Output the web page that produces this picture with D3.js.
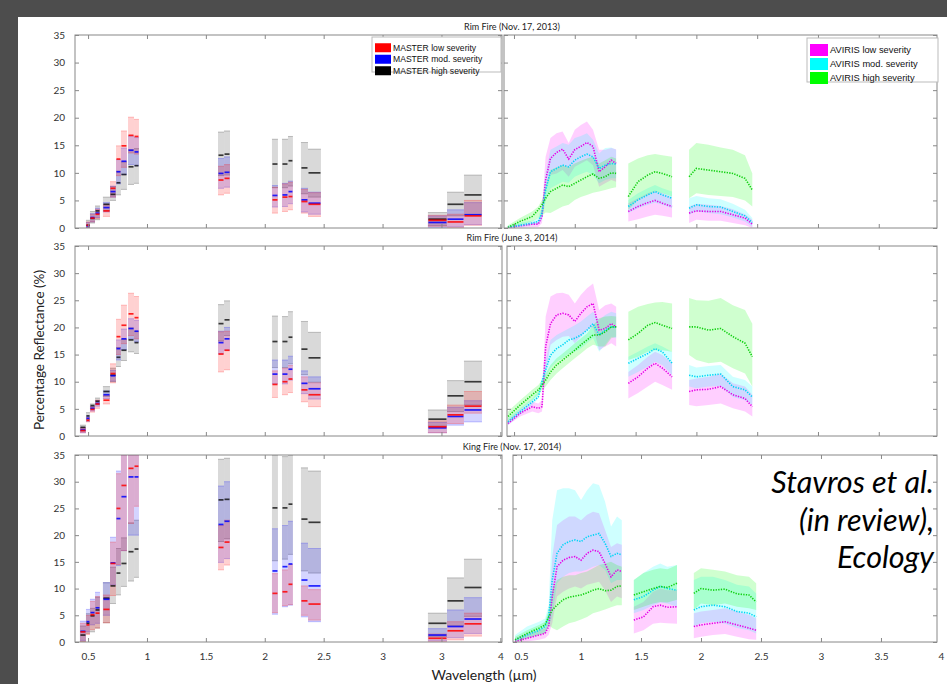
<!DOCTYPE html>
<html>
<head>
<meta charset="utf-8">
<title>Burn severity reflectance spectra</title>
<script src="https://d3js.org/d3.v7.min.js"></script>
<style>
  body { margin: 0; background: #4d4d4d; }
  svg { display: block; }
  .tick text { font-family: Lato, "Open Sans", sans-serif; font-size: 10px; fill: #333; }
  .tick line { stroke: #888; }
</style>
</head>
<body>
<svg width="947" height="684"></svg>
<script>
// ---- data ----
// MASTER band bounds (um)
var masterStart = [0.431,0.482,0.516,0.559,0.626,0.686,0.737,0.779,0.839,0.890,1.603,1.654,2.061,2.146,2.197,2.307,2.367,3.385,3.547,3.691];
var masterEnd   = [0.482,0.516,0.559,0.601,0.686,0.737,0.779,0.830,0.890,0.932,1.654,1.705,2.112,2.197,2.239,2.367,2.477,3.547,3.691,3.844];

// Rim Fire Nov 2013, MASTER
var rim13MasterLowMean  = [null,0.5,1.8,2.5,3.1,7.2,12.5,14.9,16.8,16.6,8.7,9.0,5.1,5.6,5.7,4.8,4.3,1.4,1.1,2.2];
var rim13MasterLowMin   = [null,0,1.1,1.7,2.1,5.6,9.5,11.0,13.6,13.4,6.0,6.3,2.7,3.0,3.3,2.7,2.1,0.3,0,0.5];
var rim13MasterLowMax   = [null,1.1,2.5,3.4,4.2,8.4,14.9,17.6,20.1,19.7,11.2,11.5,7.4,8.0,8.3,7.0,6.4,2.3,2.5,5.0];
var rim13MasterModMean  = [null,0.4,1.9,2.7,3.7,6.6,10.2,12.1,14.1,13.8,9.9,10.1,5.9,6.0,6.6,5.1,4.5,1.0,1.6,2.4];
var rim13MasterModMin   = [null,0,1.1,1.9,2.9,5.6,8.0,9.7,11.5,11.3,7.2,7.4,3.8,3.9,4.4,2.9,2.5,0,0.2,0.6];
var rim13MasterModMax   = [null,1.0,2.6,3.6,4.6,7.6,12.4,14.5,16.7,16.4,12.6,12.9,7.7,8.1,8.5,7.2,6.5,2.2,3.3,4.6];
var rim13MasterHighMean = [null,0.5,1.75,3.1,4.3,6.1,8.2,9.7,11.1,11.3,13.2,13.4,11.6,11.6,12.2,10.9,10.0,1.6,4.3,6.0];
var rim13MasterHighMin  = [null,0,0.9,1.5,3.1,5.0,6.0,7.0,7.9,8.1,9.5,9.6,7.3,7.3,7.6,6.2,5.6,0.4,2.2,2.4];
var rim13MasterHighMax  = [null,1.4,3.0,4.0,5.6,7.5,10.3,12.0,14.2,14.4,17.4,17.6,16.1,16.1,16.6,15.5,14.3,2.8,6.5,9.6];

// Rim Fire June 2014, MASTER
var rim14MasterLowMean  = [1.0,2.9,4.9,5.9,6.6,11.5,18.3,20.4,22.5,21.8,15.1,15.8,9.5,10.0,10.5,8.5,7.6,1.7,3.9,5.5];
var rim14MasterLowMin   = [0.6,2.6,4.4,5.1,5.9,9.8,15.0,17.0,18.5,17.9,11.8,12.2,7.1,7.6,8.0,6.3,5.4,0.6,2.3,4.2];
var rim14MasterLowMax   = [1.5,3.4,5.4,6.6,7.5,13.3,21.5,24.1,26.3,25.7,19.2,19.3,12.0,12.5,13.0,10.9,9.8,2.8,5.7,8.2];
var rim14MasterModMean  = [1.1,3.25,5.1,6.0,7.6,11.1,16.1,17.9,19.8,19.3,17.2,17.9,11.4,11.4,12.3,9.7,8.7,1.5,3.6,4.8];
var rim14MasterModMin   = [0.6,2.7,4.6,5.5,6.9,10.1,14.0,15.9,17.9,17.3,15.1,15.8,9.6,9.6,10.3,7.8,6.8,0.6,2.0,2.6];
var rim14MasterModMax   = [1.5,3.7,5.5,6.5,8.3,12.1,17.7,19.7,21.6,21.3,19.3,20.0,14.0,14.0,14.7,12.0,10.9,2.5,5.3,6.5];
var rim14MasterHighMean = [1.6,3.7,5.6,6.4,8.2,11.2,14.5,15.8,17.7,17.2,20.7,21.4,17.4,17.4,18.2,16.0,14.4,3.1,7.4,10.0];
var rim14MasterHighMin  = [0.9,3.0,5.0,5.8,7.3,10.0,12.8,13.9,15.5,15.2,17.5,18.5,12.6,12.6,13.3,11.3,9.9,1.8,4.5,5.7];
var rim14MasterHighMax  = [2.0,4.3,5.9,7.0,9.1,12.5,16.3,17.8,19.9,19.3,24.2,24.9,22.1,22.0,22.9,21.1,19.1,4.8,10.2,13.8];

// King Fire Nov 2014, MASTER
var kingMasterLowMean  = [1.9,3.2,5.1,5.4,6.1,14.7,25.0,29.3,32.5,32.9,17.7,18.7,9.1,9.4,10.8,7.7,7.1,0.7,2.1,3.4];
var kingMasterLowMin   = [0,1.4,2.3,2.6,3.6,8.7,14.5,17.1,22.2,25.4,13.5,14.4,5.5,6.8,7.0,5.0,4.1,0,0.4,1.1];
var kingMasterLowMax   = [3.5,5.0,7.6,8.5,8.8,18.7,31.5,35,35,35,21.8,22.8,12.8,13.5,14.5,10.5,9.8,1.5,3.8,5.4];
var kingMasterModMean  = [2.0,3.8,5.5,6.4,8.0,14.8,23.1,27.2,30.9,30.9,22.0,22.6,13.3,14.1,14.6,11.6,10.5,1.3,2.9,4.3];
var kingMasterModMin   = [0.3,1.9,3.2,3.5,5.0,10.7,14.3,17.1,20.0,20.0,14.9,15.6,5.2,6.6,6.9,4.7,3.8,0.2,0.8,1.6];
var kingMasterModMax   = [3.9,6.1,8.0,9.3,11.1,19.6,32.0,35,35,35,29.2,30.0,21.2,21.8,22.6,18.5,17.5,2.5,6.0,8.3];
var kingMasterHighMean = [1.3,3.5,4.9,6.0,8.2,10.5,12.9,14.7,16.9,17.4,26.6,26.7,25.1,25.1,25.8,23.0,22.4,3.5,7.7,10.2];
var kingMasterHighMin  = [0,1.6,1.9,2.6,3.6,7.2,8.8,10.4,11.4,12.1,18.8,19.3,15.2,15.5,16.4,13.3,12.9,1.0,3.0,4.8];
var kingMasterHighMax  = [3.0,5.3,6.3,8.4,11.1,14.0,17.5,19.5,22.3,22.8,34.2,34.4,35,34.7,35,32.6,32.0,5.4,12.0,15.5];

// AVIRIS sample wavelengths (um) and water absorption gaps
var avirisWl = [0.45,0.55,0.65,0.70,0.73,0.76,0.80,0.85,0.90,0.95,1.00,1.05,1.10,1.15,1.20,1.25,1.30,1.34,
                1.44,1.52,1.60,1.66,1.72,1.80,
                1.94,2.00,2.10,2.20,2.30,2.40,2.46];
var waterBands = [[1.35, 1.43], [1.81, 1.93]];

// Rim Fire Nov 2013, AVIRIS
var rim13AvirisLowMean  = [0.1,0.4,0.7,0.7,2.1,8.7,12.6,13.7,14.3,12.5,14.2,14.8,15.5,14.8,10.2,11.1,12.3,11.7, 3.0,3.9,4.6,5.0,4.5,3.9, 2.7,3.1,3.0,3.0,2.4,1.8,0.7];
var rim13AvirisLowMin   = [0,0.1,0.2,0.2,0.9,6.6,9.6,9.9,10.5,9.3,11.1,11.7,12.3,11.4,7.5,8.1,8.7,8.4, 1.2,1.6,2.1,2.4,2.2,1.9, 0.9,1.5,1.3,1.3,0.9,0.5,0];
var rim13AvirisLowMax   = [0.2,0.6,1.1,1.2,3.3,12.9,16.3,17.2,17.5,15.4,17.8,18.7,19.3,17.8,14.2,14.2,14.5,14.3, 4.5,5.4,6.3,6.8,6.3,5.6, 3.9,4.4,4.2,4.0,3.4,2.5,1.5];
var rim13AvirisModMean  = [0.1,0.5,0.9,1.2,2.7,6.9,10.2,10.8,11.4,11.1,12.3,12.9,13.4,12.9,10.8,11.4,11.7,11.6, 3.9,5.1,6.0,6.6,6.0,5.4, 3.6,4.2,3.9,3.8,3.0,2.2,1.0];
var rim13AvirisModMin   = [0,0.2,0.5,0.7,1.5,4.8,7.2,7.8,8.4,8.2,9.3,9.8,10.2,9.6,8.1,8.7,9.0,9.0, 2.7,3.6,4.2,4.6,4.2,3.6, 2.4,3.0,2.7,2.5,1.9,1.2,0.2];
var rim13AvirisModMax   = [0.4,1.0,1.3,1.8,3.9,9.9,14.2,14.8,15.4,15.1,16.3,16.7,17.2,16.0,13.5,14.5,14.6,14.2, 5.1,6.3,7.2,7.8,7.2,6.6, 5.4,5.8,5.4,5.2,4.4,3.3,1.8];
var rim13AvirisHighMean = [0.1,1.2,2.1,3.3,4.2,5.4,6.6,7.2,7.8,7.5,8.1,8.7,9.3,9.8,9.0,9.3,10.0,9.9, 5.7,8.4,9.6,10.2,9.9,9.3, 9.3,10.8,10.5,10.2,9.9,9.0,6.9];
var rim13AvirisHighMin  = [0.1,0.5,1.2,1.8,2.2,2.8,2.7,3.3,3.9,4.2,5.1,5.6,6.0,6.4,6.6,6.9,7.2,7.4, 3.3,5.1,6.0,6.6,6.3,5.7, 5.4,6.3,6.0,5.8,5.6,5.0,3.9];
var rim13AvirisHighMax  = [0.5,1.8,3.0,3.9,5.1,7.5,10.5,11.0,11.4,11.0,11.7,12.2,12.6,12.9,11.7,12.3,12.9,12.6, 11.7,12.6,13.2,13.4,13.2,12.9, 14.2,15.4,15.1,14.6,14.2,13.2,9.9];

// Rim Fire June 2014, AVIRIS
var rim14AvirisLowMean  = [2.3,4.2,5.4,5.1,5.4,16.5,20.7,22.3,22.6,22.3,21.1,22.6,23.8,24.4,19.5,19.8,20.7,20.1, 9.7,10.9,12.5,13.4,12.5,10.9, 8.2,8.5,8.6,9.1,7.6,6.9,5.4];
var rim14AvirisLowMin   = [2.0,3.6,4.5,4.2,4.5,11.5,16.8,17.7,18.3,18.4,17.1,18.3,19.5,20.1,15.8,16.5,17.1,16.5, 6.9,7.9,9.1,10.0,9.4,8.5, 5.7,5.5,5.7,6.0,5.1,4.5,3.6];
var rim14AvirisLowMax   = [2.9,4.8,6.3,6.0,6.6,22.0,25.7,26.3,26.4,26.0,24.4,26.0,27.2,28.1,23.2,24.1,24.4,23.8, 11.8,13.1,14.6,15.5,14.9,13.4, 10.3,10.6,10.9,11.5,9.7,9.1,7.6];
var rim14AvirisModMean  = [2.6,4.5,6.3,7.2,10.0,12.2,14.9,16.1,16.8,17.7,18.0,18.6,19.5,20.7,18.6,19.5,20.1,20.0, 13.4,14.3,15.2,16.1,15.5,13.4, 11.2,10.9,11.2,11.4,9.1,8.5,7.2];
var rim14AvirisModMin   = [2.0,3.9,5.7,6.9,9.1,10.6,12.5,13.7,14.3,15.2,15.5,16.1,17.1,18.0,15.5,16.8,18.3,18.0, 10.9,11.8,12.8,13.7,13.1,11.2, 9.1,8.8,9.1,9.2,7.2,6.6,5.7];
var rim14AvirisModMax   = [3.3,5.1,6.9,8.2,10.9,14.0,17.7,18.6,19.2,19.8,20.4,21.1,22.0,22.9,21.4,22.3,22.9,22.6, 14.6,15.5,16.5,17.1,16.5,15.5, 13.1,12.6,12.9,13.1,10.9,10.3,9.1];
var rim14AvirisHighMean = [3.6,5.7,7.6,8.5,9.4,10.3,11.8,13.1,14.0,14.9,15.8,16.8,17.7,18.6,18.6,19.2,20.1,20.1, 17.7,18.9,20.4,20.9,20.4,19.8, 20.1,20.1,19.5,19.8,18.3,17.1,14.6];
var rim14AvirisHighMin  = [2.6,4.8,6.6,7.6,8.5,9.1,10.3,11.5,12.5,13.4,14.3,15.2,16.1,16.8,16.5,16.5,18.0,18.3, 14.0,14.6,15.5,15.8,15.8,15.5, 14.9,14.0,13.4,13.7,12.5,11.5,9.1];
var rim14AvirisHighMax  = [4.5,6.6,8.5,9.4,10.3,11.5,13.1,14.3,15.2,16.1,17.1,18.0,18.9,20.4,21.7,22.0,22.1,22.0, 22.9,23.8,24.3,24.6,24.7,24.4, 25.4,25.0,24.9,25.4,24.1,23.2,20.7];

// King Fire Nov 2014, AVIRIS
var kingAvirisLowMean  = [0.1,0.7,1.3,1.6,2.9,8.5,14.1,15.3,15.8,16.0,15.3,16.6,17.2,16.9,14.7,12.2,13.5,13.2, 4.1,4.7,6.6,6.9,6.5,6.6, 2.9,3.2,3.5,3.8,3.2,2.6,2.2];
var kingAvirisLowMin   = [0,0.1,0.4,0.7,1.3,3.5,8.5,9.4,10.0,10.4,10.0,10.7,11.0,11.3,9.7,7.5,8.5,8.2, 1.6,2.2,3.4,3.6,3.5,3.4, 0.7,1.0,1.3,1.5,1.0,0.5,0.4];
var kingAvirisLowMax   = [0.7,1.6,2.2,2.6,4.1,16.0,21.9,22.8,23.5,23.5,22.8,23.8,24.4,24.1,21.0,17.8,18.5,18.2, 6.6,7.5,9.4,10.0,9.7,9.7, 5.4,5.7,6.0,6.3,5.7,5.1,4.4];
var kingAvirisModMean  = [0.4,1.3,2.2,2.9,4.7,11.6,16.6,18.2,18.8,19.1,18.8,19.7,20.0,20.3,18.5,16.0,16.6,16.3, 7.9,8.5,9.7,10.4,10.0,9.7, 6.0,6.6,6.9,6.6,5.7,5.4,4.7];
var kingAvirisModMin   = [0,0.7,1.3,1.7,2.9,4.7,11.0,12.2,12.9,13.2,13.2,13.5,14.1,14.4,13.5,11.0,11.6,11.6, 5.4,6.0,6.9,7.4,7.2,6.6, 2.9,3.5,3.8,3.4,2.6,2.2,1.6];
var kingAvirisModMax   = [1.3,2.9,3.8,4.4,6.9,22.8,28.4,28.8,28.8,28.4,26.6,28.4,29.7,29.4,26.3,21.6,23.5,22.8, 11.6,12.9,14.1,14.7,14.1,14.4, 11.6,12.2,12.2,11.6,10.7,10.4,9.1];
var kingAvirisHighMean = [0.4,1.6,2.6,3.2,4.7,6.0,6.9,7.9,8.4,8.6,8.8,9.2,9.7,10.0,9.6,9.7,10.4,10.5, 8.8,9.4,10.0,10.4,10.2,11.0, 9.1,10.0,9.7,9.9,9.0,8.8,7.5];
var kingAvirisHighMin  = [0,0.7,1.3,1.6,3.2,2.6,2.2,2.9,3.5,3.8,4.2,4.7,5.4,5.7,6.1,6.5,6.9,6.9, 6.0,6.6,7.2,7.5,7.4,7.9, 6.0,7.2,6.9,7.2,6.6,6.3,6.0];
var kingAvirisHighMax  = [1.0,2.2,3.2,3.8,6.0,9.7,11.6,12.2,12.5,12.5,12.9,13.2,13.8,14.4,14.7,15.0,14.4,14.1, 11.6,12.9,13.5,13.8,13.6,14.4, 12.9,13.8,13.5,13.2,12.5,12.2,11.0];

// axes and text
var yTicks = [0, 5, 10, 15, 20, 25, 30, 35];
var xTicks = [0.5, 1, 1.5, 2, 2.5, 3, 3.5, 4];
var leftXLabels = ["0.5", "1", "1.5", "2", "2.5", "3", "3", "4"];
var rightXLabels = ["0.5", "1", "1.5", "2", "2.5", "3", "3.5", "4"];
var titles = ["Rim Fire (Nov. 17, 2013)", "Rim Fire (June 3, 2014)", "King Fire (Nov. 17, 2014)"];
var masterLegend = ["MASTER low severity", "MASTER mod. severity", "MASTER high severity"];
var avirisLegend = ["AVIRIS low severity", "AVIRIS mod. severity", "AVIRIS high severity"];
var citation = ["Stavros et al.", "(in review),", "Ecology"];

// ---- tables built from the arrays ----
var masterRows = [
    [{mean: rim13MasterLowMean, min: rim13MasterLowMin, max: rim13MasterLowMax},
     {mean: rim13MasterModMean, min: rim13MasterModMin, max: rim13MasterModMax},
     {mean: rim13MasterHighMean, min: rim13MasterHighMin, max: rim13MasterHighMax}],
    [{mean: rim14MasterLowMean, min: rim14MasterLowMin, max: rim14MasterLowMax},
     {mean: rim14MasterModMean, min: rim14MasterModMin, max: rim14MasterModMax},
     {mean: rim14MasterHighMean, min: rim14MasterHighMin, max: rim14MasterHighMax}],
    [{mean: kingMasterLowMean, min: kingMasterLowMin, max: kingMasterLowMax},
     {mean: kingMasterModMean, min: kingMasterModMin, max: kingMasterModMax},
     {mean: kingMasterHighMean, min: kingMasterHighMin, max: kingMasterHighMax}]
];
var avirisRows = [
    [{mean: rim13AvirisLowMean, min: rim13AvirisLowMin, max: rim13AvirisLowMax},
     {mean: rim13AvirisModMean, min: rim13AvirisModMin, max: rim13AvirisModMax},
     {mean: rim13AvirisHighMean, min: rim13AvirisHighMin, max: rim13AvirisHighMax}],
    [{mean: rim14AvirisLowMean, min: rim14AvirisLowMin, max: rim14AvirisLowMax},
     {mean: rim14AvirisModMean, min: rim14AvirisModMin, max: rim14AvirisModMax},
     {mean: rim14AvirisHighMean, min: rim14AvirisHighMin, max: rim14AvirisHighMax}],
    [{mean: kingAvirisLowMean, min: kingAvirisLowMin, max: kingAvirisLowMax},
     {mean: kingAvirisModMean, min: kingAvirisModMin, max: kingAvirisModMax},
     {mean: kingAvirisHighMean, min: kingAvirisHighMin, max: kingAvirisHighMax}]
];

// ---- layout ----
var rowY = [[35, 228], [246, 436], [455, 642]];
var leftX = {range: [75, 502], domain: [0.389, 4.014]};
var rightX = [
    {range: [504, 937], domain: [0.418, 3.979]},
    {range: [507, 937], domain: [0.442, 3.979]},
    {range: [513, 937], domain: [0.433, 3.967]}
];
var masterColors = ["#ff0000", "#0000ff", "#000000"];
var masterFill = [0.18, 0.17, 0.15];
var avirisColors = ["#ff00ff", "#00ffff", "#00ff00"];
var avirisLine = ["#e600e6", "#00d5f5", "#10d010"];
var font = "Lato, 'Open Sans', sans-serif";

var svg = d3.select("svg");
svg.append("rect").attr("x", 18).attr("y", 17).attr("width", 929).attr("height", 667).attr("fill", "#fff");

var defs = svg.append("defs");
var clipId = 0;

function frame(g, x, y, labelX, labelY) {
    var x0 = x.range()[0], x1 = x.range()[1];
    var top = y.range()[1], bottom = y.range()[0];
    var inside = xTicks.filter(function(d) { return d >= x.domain()[0] && d <= x.domain()[1]; });

    g.append("g").attr("transform", "translate(0," + bottom + ")")
        .call(d3.axisBottom(x).tickValues(inside).tickSize(-4).tickFormat(""));
    g.append("g").attr("transform", "translate(0," + top + ")")
        .call(d3.axisTop(x).tickValues(inside).tickSize(-4).tickFormat(""));
    g.append("g").attr("transform", "translate(" + x0 + ",0)")
        .call(d3.axisLeft(y).tickValues(yTicks).tickSize(-4).tickFormat(""));
    g.append("g").attr("transform", "translate(" + x1 + ",0)")
        .call(d3.axisRight(y).tickValues(yTicks).tickSize(-4).tickFormat(""));

    if (labelY) {
        g.append("g").attr("transform", "translate(" + x0 + ",0)")
            .call(d3.axisLeft(y).tickValues(yTicks).tickSize(0).tickPadding(10));
    }
    if (labelX) {
        g.append("g").attr("transform", "translate(0," + bottom + ")")
            .call(d3.axisBottom(x).tickValues(xTicks).tickSize(0).tickPadding(11)
                .tickFormat(function(d, i) { return labelX[i]; }));
    }
    g.selectAll(".domain").remove();

    g.append("rect")
        .attr("x", x0).attr("y", top)
        .attr("width", x1 - x0).attr("height", bottom - top)
        .attr("fill", "none").attr("stroke", "#888").attr("stroke-width", 1);
}

function clipFor(x, y) {
    var id = "clip" + (clipId++);
    defs.append("clipPath").attr("id", id).append("rect")
        .attr("x", x.range()[0]).attr("y", y.range()[1])
        .attr("width", x.range()[1] - x.range()[0])
        .attr("height", y.range()[0] - y.range()[1]);
    return "url(#" + id + ")";
}

function drawMaster(g, x, y, series) {
    var bySeverity = series.map(function(s) {
        return masterStart.map(function(w, i) {
            return {x0: w, x1: masterEnd[i], mean: s.mean[i], min: s.min[i], max: s.max[i]};
        }).filter(function(d) { return d.mean != null; });
    });

    // high first so the lighter severities sit on top
    [2, 1, 0].forEach(function(si) {
        var bands = bySeverity[si];
        g.selectAll(null).data(bands).enter().append("rect")
            .attr("x", function(d) { return x(d.x0); })
            .attr("width", function(d) { return x(d.x1) - x(d.x0); })
            .attr("y", function(d) { return y(d.max); })
            .attr("height", function(d) { return y(d.min) - y(d.max); })
            .attr("fill", masterColors[si])
            .attr("fill-opacity", masterFill[si]);
        ["min", "max"].forEach(function(k) {
            g.selectAll(null).data(bands).enter().append("line")
                .attr("x1", function(d) { return x(d.x0); })
                .attr("x2", function(d) { return x(d.x1); })
                .attr("y1", function(d) { return y(d[k]); })
                .attr("y2", function(d) { return y(d[k]); })
                .attr("stroke", masterColors[si])
                .attr("stroke-opacity", 0.22);
        });
    });

    [2, 1, 0].forEach(function(si) {
        g.selectAll(null).data(bySeverity[si]).enter().append("line")
            .attr("x1", function(d) { return x(d.x0) + 0.5; })
            .attr("x2", function(d) { return x(d.x1) - 0.5; })
            .attr("y1", function(d) { return y(d.mean); })
            .attr("y2", function(d) { return y(d.mean); })
            .attr("stroke", masterColors[si])
            .attr("stroke-opacity", si == 2 ? 0.75 : 0.85)
            .attr("stroke-width", 1.7);
    });
}

function drawAviris(g, x, y, series) {
    var segOf = function(w) {
        return waterBands.filter(function(b) { return b[1] < w; }).length;
    };
    var area = d3.area()
        .x(function(d) { return x(d.w); })
        .y0(function(d) { return y(d.min); })
        .y1(function(d) { return y(d.max); });
    var line = d3.line()
        .x(function(d) { return x(d.w); })
        .y(function(d) { return y(d.mean); });

    var segsBySeverity = series.map(function(s) {
        var pts = avirisWl.map(function(w, i) {
            return {w: w, seg: segOf(w), mean: s.mean[i], min: s.min[i], max: s.max[i]};
        });
        return d3.groups(pts, function(d) { return d.seg; }).map(function(d) { return d[1]; });
    });

    segsBySeverity.forEach(function(segs, si) {
        g.selectAll(null).data(segs).enter().append("path")
            .attr("d", area)
            .attr("fill", avirisColors[si])
            .attr("fill-opacity", 0.19);
    });
    segsBySeverity.forEach(function(segs, si) {
        g.selectAll(null).data(segs).enter().append("path")
            .attr("d", line)
            .attr("fill", "none")
            .attr("stroke", avirisLine[si])
            .attr("stroke-width", 1.6)
            .attr("stroke-dasharray", "1.3,1.3");
    });
}

rowY.forEach(function(r, ri) {
    var y = d3.scaleLinear().domain([0, 35]).range([r[1], r[0]]);
    var xl = d3.scaleLinear().domain(leftX.domain).range(leftX.range);
    var xr = d3.scaleLinear().domain(rightX[ri].domain).range(rightX[ri].range);
    var last = ri == rowY.length - 1;

    var gl = svg.append("g");
    drawMaster(gl.append("g").attr("clip-path", clipFor(xl, y)), xl, y, masterRows[ri]);
    frame(gl, xl, y, last ? leftXLabels : null, true);

    var gr = svg.append("g");
    drawAviris(gr.append("g").attr("clip-path", clipFor(xr, y)), xr, y, avirisRows[ri]);
    frame(gr, xr, y, last ? rightXLabels : null, false);

    svg.append("text")
        .attr("x", 512).attr("y", r[0] - 5)
        .attr("text-anchor", "middle")
        .style("font-family", font).style("font-size", "9px").style("fill", "#222")
        .text(titles[ri]);
});

// legends
function legend(x0, y0, w, h, rowH, sw, shH, fs, labels, colors) {
    var g = svg.append("g");
    g.append("rect").attr("x", x0).attr("y", y0).attr("width", w).attr("height", h)
        .attr("fill", "#fff").attr("stroke", "#bbb").attr("stroke-width", 1);
    labels.forEach(function(t, i) {
        var cy = y0 + 6 + rowH / 2 + i * rowH - 1;
        g.append("rect").attr("x", x0 + 3).attr("y", cy - shH / 2)
            .attr("width", sw).attr("height", shH).attr("fill", colors[i]);
        g.append("text").attr("x", x0 + sw + 5).attr("y", cy).attr("dy", "0.35em")
            .style("font-family", "'Liberation Sans', Arial, sans-serif")
            .style("font-size", fs + "px").style("fill", "#111")
            .text(t);
    });
}
legend(372, 37, 129, 35, 11.5, 16, 9, 8.6, masterLegend, masterColors);
legend(807, 38, 131, 44, 14, 18, 12, 9.3, avirisLegend, avirisColors);

// axis titles
svg.append("text")
    .attr("transform", "translate(44,350) rotate(-90)")
    .attr("text-anchor", "middle")
    .style("font-family", font).style("font-size", "13.5px").style("fill", "#222")
    .text("Percentage Reflectance (%)");
svg.append("text")
    .attr("x", 484).attr("y", 680)
    .attr("text-anchor", "middle")
    .style("font-family", font).style("font-size", "14px").style("fill", "#222")
    .text("Wavelength (\u00b5m)");

// citation
svg.append("g").selectAll("text").data(citation).enter().append("text")
    .attr("x", 934)
    .attr("y", function(d, i) { return 493 + i * 37.5; })
    .attr("text-anchor", "end")
    .style("font-family", font).style("font-style", "italic")
    .style("font-size", "30.5px").style("fill", "#000")
    .text(function(d) { return d; });
</script>
</body>
</html>
